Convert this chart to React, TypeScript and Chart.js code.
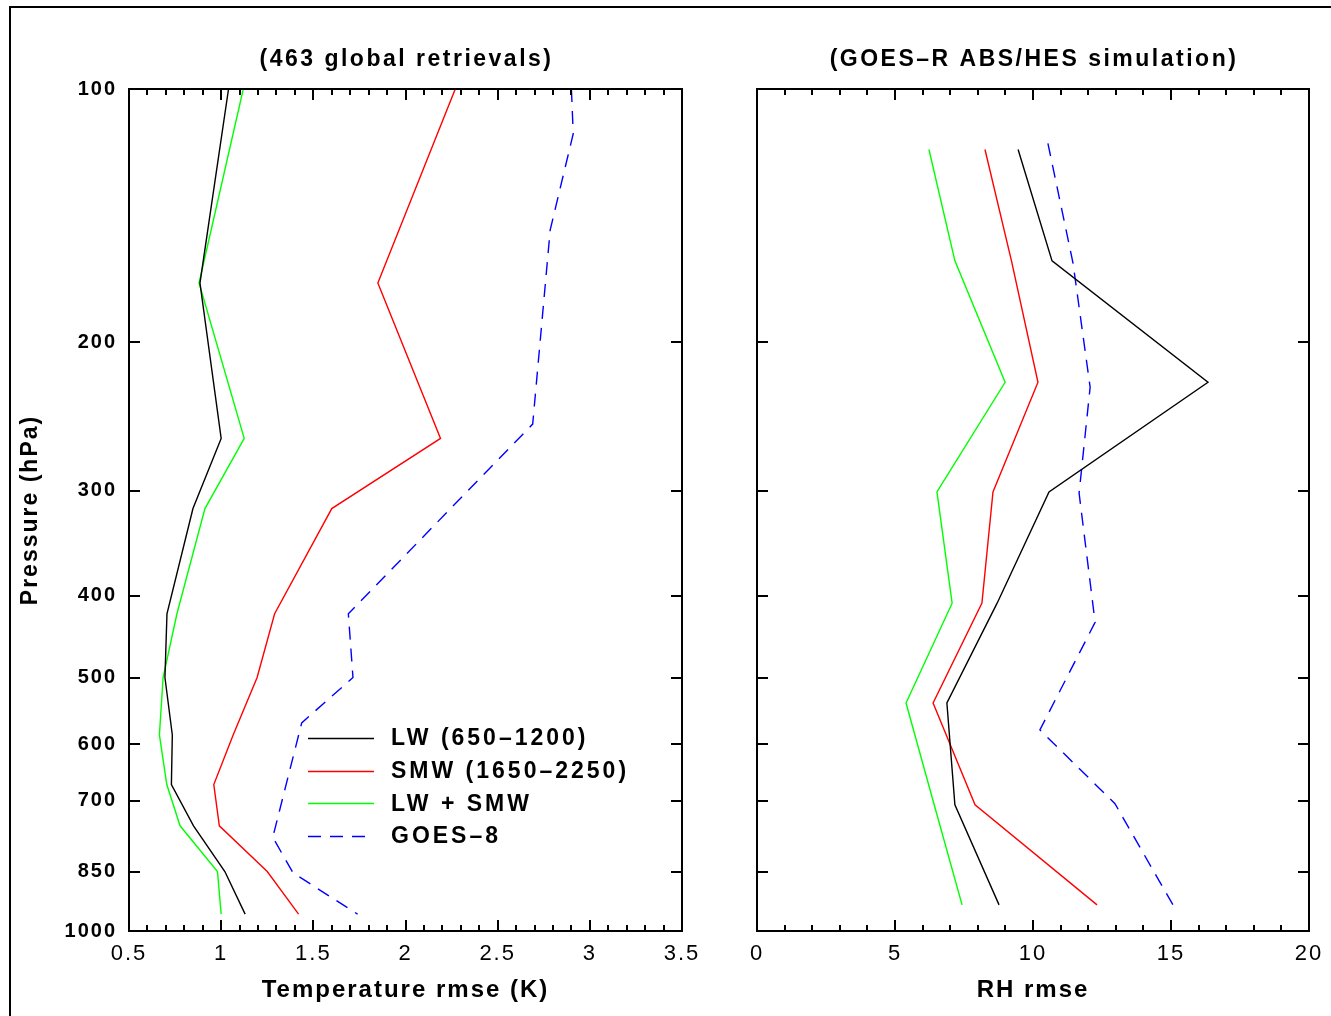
import React, { useEffect, useRef } from 'react';
import { Chart, registerables } from 'chart.js';

Chart.register(...registerables);

// ---------- data ----------
const pressureTicks = [100, 200, 300, 400, 500, 600, 700, 850, 1000];
const tempTicks = [0.5, 1, 1.5, 2, 2.5, 3, 3.5];
const rhTicks = [0, 5, 10, 15, 20];

const seriesNames = ['LW (650–1200)', 'SMW (1650–2250)', 'LW + SMW', 'GOES–8'];
const panelTitles = ['(463 global retrievals)', '(GOES–R ABS/HES simulation)'];
const xTitles = ['Temperature rmse (K)', 'RH rmse'];
const yTitle = 'Pressure (hPa)';

// Temperature rmse (K) vs pressure (hPa)
const tempLevels = [100, 170, 260, 315, 420, 500, 585, 670, 750, 850, 955];
const lwTemp = [1.04, 0.885, 1.0, 0.847, 0.706, 0.695, 0.735, 0.73, 0.85, 1.02, 1.13];
const smwTemp = [2.27, 1.85, 2.19, 1.6, 1.29, 1.195, 1.065, 0.96, 0.99, 1.25, 1.42];
const lwSmwTemp = [1.12, 0.88, 1.125, 0.912, 0.76, 0.685, 0.665, 0.705, 0.777, 0.98, 1.0];
const goesTempLevels = [100, 113, 147, 250, 420, 500, 566, 774, 853, 955];
const goesTemp = [2.9, 2.91, 2.785, 2.69, 1.69, 1.715, 1.437, 1.28, 1.39, 1.74];

// RH rmse vs pressure (hPa)
const rhLevels = [118, 160, 223, 301, 408, 536, 708, 931];
const lwRh = [9.46, 10.69, 16.34, 10.58, 8.7, 6.88, 7.17, 8.77];
const smwRh = [8.26, 9.22, 10.18, 8.55, 8.15, 6.38, 7.9, 12.32];
const lwSmwRh = [6.23, 7.17, 8.99, 6.52, 7.07, 5.4, 6.42, 7.43];
const goesRhLevels = [116, 161, 226, 302, 430, 577, 706, 931];
const goesRh = [10.54, 11.45, 12.07, 11.67, 12.25, 10.25, 12.97, 15.07];

// ---------- styles ----------
const FONT = '"Liberation Sans", Arial, Helvetica, sans-serif';
const seriesColors = ['#000000', '#ff0000', '#00ff00', '#0000ff'];
const seriesDash = [[], [], [], [13, 9]];

type Panel = {
  title: string;
  xTitle: string;
  xMin: number;
  xMax: number;
  xTicks: number[];
  minorStep: number;
  series: { levels: number[]; values: number[] }[];
  showY: boolean;
  legend: boolean;
  canvasLeft: number;
  canvasWidth: number;
  axisWidth: number;
  padRight: number;
};

const panels: Panel[] = [
  {
    title: panelTitles[0],
    xTitle: xTitles[0],
    xMin: 0.5,
    xMax: 3.5,
    xTicks: tempTicks,
    minorStep: 0.1,
    series: [
      { levels: tempLevels, values: lwTemp },
      { levels: tempLevels, values: smwTemp },
      { levels: tempLevels, values: lwSmwTemp },
      { levels: goesTempLevels, values: goesTemp },
    ],
    showY: true,
    legend: true,
    canvasLeft: 0,
    canvasWidth: 720,
    axisWidth: 129,
    padRight: 38,
  },
  {
    title: panelTitles[1],
    xTitle: xTitles[1],
    xMin: 0,
    xMax: 20,
    xTicks: rhTicks,
    minorStep: 1,
    series: [
      { levels: rhLevels, values: lwRh },
      { levels: rhLevels, values: smwRh },
      { levels: rhLevels, values: lwSmwRh },
      { levels: goesRhLevels, values: goesRh },
    ],
    showY: false,
    legend: false,
    canvasLeft: 720,
    canvasWidth: 611,
    axisWidth: 37,
    padRight: 22,
  },
];

function makeFramePlugin(panel: Panel) {
  return {
    id: 'frameAndText',
    beforeDraw(chart: any) {
      chart.ctx.letterSpacing = '2px';
    },
    afterDraw(chart: any) {
      const ctx = chart.ctx as CanvasRenderingContext2D;
      const ca = chart.chartArea;
      const xs = chart.scales.x;
      const ys = chart.scales.y;
      ctx.save();
      (ctx as any).letterSpacing = '0px';
      ctx.setLineDash([]);
      ctx.strokeStyle = '#000';
      ctx.lineWidth = 2;
      ctx.strokeRect(ca.left, ca.top, ca.right - ca.left, ca.bottom - ca.top);

      // x ticks (inward, top and bottom)
      ctx.beginPath();
      const n = Math.round((panel.xMax - panel.xMin) / panel.minorStep);
      for (let i = 1; i < n; i++) {
        const v = panel.xMin + i * panel.minorStep;
        const major = panel.xTicks.some((t) => Math.abs(t - v) < 1e-6);
        const len = major ? 11 : 6;
        const x = Math.round(xs.getPixelForValue(v));
        ctx.moveTo(x, ca.top);
        ctx.lineTo(x, ca.top + len);
        ctx.moveTo(x, ca.bottom);
        ctx.lineTo(x, ca.bottom - len);
      }
      // y ticks (inward, left and right)
      for (const t of pressureTicks.slice(1, -1)) {
        const y = Math.round(ys.getPixelForValue(t));
        ctx.moveTo(ca.left, y);
        ctx.lineTo(ca.left + 11, y);
        ctx.moveTo(ca.right, y);
        ctx.lineTo(ca.right - 11, y);
      }
      ctx.stroke();

      // panel title
      ctx.fillStyle = '#000';
      ctx.font = `bold 23px ${FONT}`;
      (ctx as any).letterSpacing = '2.5px';
      ctx.textAlign = 'center';
      ctx.textBaseline = 'middle';
      ctx.fillText(panel.title, (ca.left + ca.right) / 2 + 1, ca.top - 29);

      // legend
      if (panel.legend) {
        ctx.textAlign = 'left';
        (ctx as any).letterSpacing = '3px';
        for (let i = 0; i < seriesNames.length; i++) {
          const y = ca.top + 649 + i * 32.7;
          ctx.beginPath();
          ctx.strokeStyle = seriesColors[i];
          ctx.lineWidth = 1.5;
          ctx.setLineDash(seriesDash[i]);
          ctx.moveTo(ca.left + 179, Math.round(y) + 0.5);
          ctx.lineTo(ca.left + 245, Math.round(y) + 0.5);
          ctx.stroke();
          ctx.setLineDash([]);
          ctx.fillStyle = '#000';
          ctx.fillText(seriesNames[i], ca.left + 262, y + 1);
        }
      }
      ctx.restore();
    },
  };
}

function buildConfig(panel: Panel): any {
  const datasets = panel.series.map((s, i) => ({
    label: seriesNames[i],
    data: s.levels.map((p, j) => ({ x: s.values[j], y: p })),
    borderColor: seriesColors[i],
    backgroundColor: seriesColors[i],
    borderWidth: 1.4,
    borderDash: seriesDash[i],
    showLine: true,
    pointRadius: 0,
    tension: 0,
    fill: false,
  }));
  return {
    type: 'scatter',
    data: { datasets },
    plugins: [makeFramePlugin(panel)],
    options: {
      animation: false,
      responsive: false,
      devicePixelRatio: 1,
      layout: { padding: { top: 89, left: 0, right: panel.padRight, bottom: 0 } },
      plugins: {
        legend: { display: false },
        tooltip: { enabled: false },
        title: { display: false },
      },
      scales: {
        x: {
          type: 'linear',
          position: 'bottom',
          min: panel.xMin,
          max: panel.xMax,
          grid: { display: false, drawTicks: false },
          border: { display: false },
          afterBuildTicks: (s: any) => {
            s.ticks = panel.xTicks.map((v) => ({ value: v }));
          },
          afterFit: (s: any) => {
            s.height = 85;
            s.paddingLeft = 0;
            s.paddingRight = 0;
          },
          ticks: {
            autoSkip: false,
            maxRotation: 0,
            padding: 10,
            color: '#000',
            font: { family: FONT, size: 22, weight: 'normal' },
            callback: (v: any) => String(v),
          },
          title: {
            display: true,
            text: panel.xTitle,
            color: '#000',
            font: { family: FONT, size: 24, weight: 'bold' },
            padding: { top: 0, bottom: 11 },
          },
        },
        y: {
          type: 'logarithmic',
          position: 'left',
          min: 100,
          max: 1000,
          reverse: true,
          grid: { display: false, drawTicks: false },
          border: { display: false },
          afterBuildTicks: (s: any) => {
            s.ticks = pressureTicks.map((v) => ({ value: v }));
          },
          afterFit: (s: any) => {
            s.width = panel.axisWidth;
            s.paddingTop = 0;
            s.paddingBottom = 0;
          },
          ticks: {
            display: panel.showY,
            autoSkip: false,
            padding: 12,
            color: '#000',
            font: { family: FONT, size: 20, weight: 'bold' },
            callback: (v: any) => String(v),
          },
          title: {
            display: panel.showY,
            text: yTitle,
            color: '#000',
            font: { family: FONT, size: 23, weight: 'bold' },
            padding: { top: 17, bottom: 0 },
          },
        },
      },
    },
  };
}

function PanelChart({ panel }: { panel: Panel }) {
  const ref = useRef<HTMLCanvasElement>(null);
  useEffect(() => {
    if (!ref.current) return;
    const chart = new Chart(ref.current, buildConfig(panel));
    return () => chart.destroy();
  }, [panel]);
  return (
    <canvas
      ref={ref}
      width={panel.canvasWidth}
      height={1016}
      style={{ position: 'absolute', left: panel.canvasLeft, top: 0, width: panel.canvasWidth, height: 1016 }}
    />
  );
}

export default function App() {
  return (
    <div
      style={{
        position: 'absolute',
        left: 0,
        top: 0,
        width: 1331,
        height: 1016,
        overflow: 'hidden',
        background: '#fff',
      }}
    >
      <div
        style={{
          position: 'absolute',
          left: 9,
          top: 6,
          right: -10,
          bottom: -10,
          borderLeft: '2px solid #000',
          borderTop: '2px solid #000',
        }}
      />
      {panels.map((p, i) => (
        <PanelChart key={i} panel={p} />
      ))}
    </div>
  );
}
